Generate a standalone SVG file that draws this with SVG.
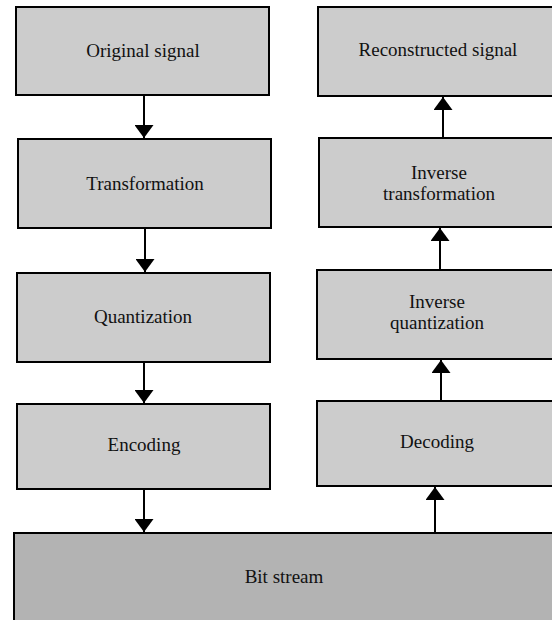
<svg xmlns="http://www.w3.org/2000/svg" width="552" height="620" viewBox="0 0 552 620">
<defs>
<marker id="ah" markerUnits="userSpaceOnUse" markerWidth="13" markerHeight="19" viewBox="0 0 13 19" refX="13" refY="9.5" orient="auto">
<path d="M0,0 L13,9.5 L0,19 Z" fill="#000"/>
</marker>
<style>
.box{fill:#cccccc;stroke:#000;stroke-width:2}
.bit{fill:#b3b3b3;stroke:#000;stroke-width:2}
.t{font-family:"Liberation Serif","Times New Roman",serif;font-size:19px;fill:#111;text-anchor:middle}
.c{stroke:#000;stroke-width:2;fill:none;marker-end:url(#ah)}
</style>
</defs>
<rect width="552" height="620" fill="#fff"/>
<g id="original"><rect class="box" x="16" y="7" width="253" height="88"/><text class="t" x="143" y="57">Original signal</text></g>
<g id="transformation"><rect class="box" x="18" y="139" width="253" height="89"/><text class="t" x="145" y="190">Transformation</text></g>
<g id="quantization"><rect class="box" x="17" y="273" width="253" height="89"/><text class="t" x="143" y="323">Quantization</text></g>
<g id="encoding"><rect class="box" x="17" y="404" width="253" height="85"/><text class="t" x="144" y="451">Encoding</text></g>
<g id="bitstream"><rect class="bit" x="14" y="533" width="546" height="100"/><text class="t" x="284" y="583">Bit stream</text></g>
<g id="reconstructed"><rect class="box" x="318" y="7" width="240" height="89"/><text class="t" x="438" y="56">Reconstructed signal</text></g>
<g id="invtransformation"><rect class="box" x="319" y="138" width="240" height="89"/><text class="t" x="439" y="179">Inverse</text><text class="t" x="439" y="200">transformation</text></g>
<g id="invquantization"><rect class="box" x="317" y="270" width="240" height="89"/><text class="t" x="437" y="308">Inverse</text><text class="t" x="437" y="329">quantization</text></g>
<g id="decoding"><rect class="box" x="317" y="401" width="240" height="85"/><text class="t" x="437" y="448">Decoding</text></g>
<g id="connectors">
<line class="c" x1="144" y1="95" x2="144" y2="138"/>
<line class="c" x1="145" y1="228" x2="145" y2="272"/>
<line class="c" x1="144" y1="362" x2="144" y2="403"/>
<line class="c" x1="144" y1="489" x2="144" y2="532"/>
<line class="c" x1="435" y1="533" x2="435" y2="487"/>
<line class="c" x1="441" y1="401" x2="441" y2="360"/>
<line class="c" x1="440" y1="270" x2="440" y2="228"/>
<line class="c" x1="443" y1="138" x2="443" y2="97"/>
</g>
</svg>
